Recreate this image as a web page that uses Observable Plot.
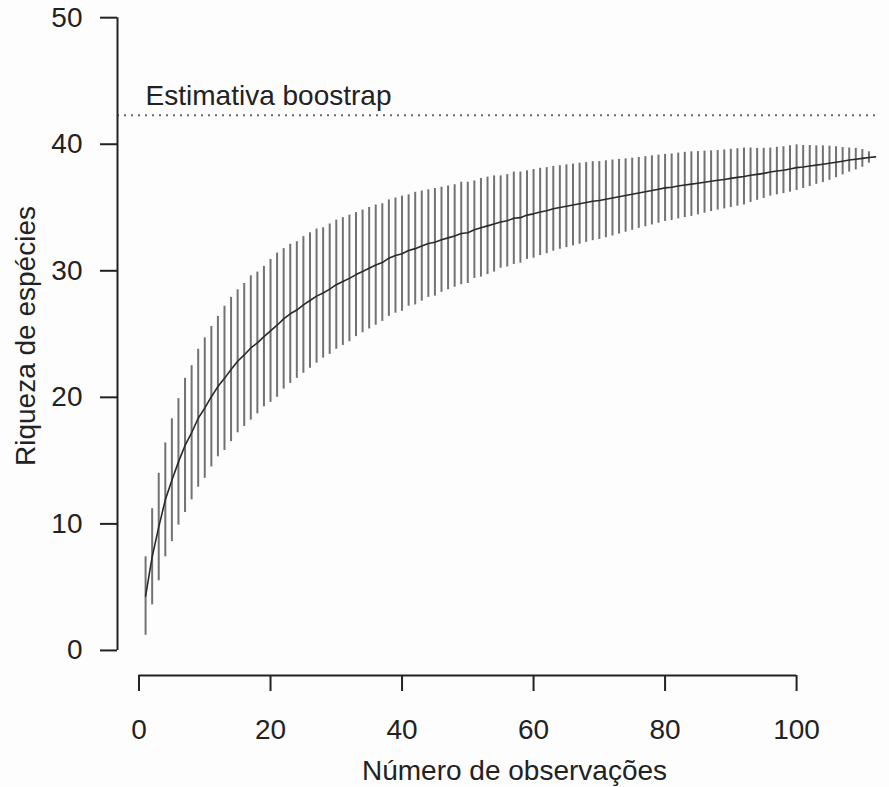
<!DOCTYPE html>
<html>
<head>
<meta charset="utf-8">
<script src="https://cdn.jsdelivr.net/npm/d3@7"></script>
<script src="https://cdn.jsdelivr.net/npm/@observablehq/plot@0.6"></script>
<style>
  html, body { margin: 0; padding: 0; background: #fdfdfd; }
  #chart svg { display: block; }
</style>
</head>
<body>
<div id="chart"></div>
<script>
// ---- Data ----
const observations = d3.range(1, 113); // 1 .. 112

const meanRichness = [
  4.3, 7.4, 9.75, 11.9, 13.45, 14.9, 16.2, 17.2, 18.35, 19.15,
  20.05, 20.85, 21.5, 22.2, 22.85, 23.35, 23.9, 24.3, 24.8, 25.25,
  25.7, 26.2, 26.6, 26.9, 27.3, 27.65, 28.0, 28.25, 28.55, 28.9,
  29.15, 29.4, 29.7, 29.95, 30.2, 30.45, 30.65, 31.0, 31.2, 31.35,
  31.6, 31.75, 31.95, 32.15, 32.25, 32.45, 32.6, 32.75, 32.95, 33.0,
  33.25, 33.4, 33.55, 33.7, 33.85, 33.95, 34.15, 34.2, 34.4, 34.5,
  34.65, 34.75, 34.9, 35.0, 35.1, 35.2, 35.3, 35.4, 35.5, 35.55,
  35.65, 35.75, 35.85, 35.95, 36.05, 36.15, 36.25, 36.35, 36.45, 36.55,
  36.6, 36.7, 36.78, 36.85, 36.92, 37.0, 37.08, 37.15, 37.22, 37.3,
  37.38, 37.45, 37.55, 37.62, 37.7, 37.8, 37.88, 37.95, 38.05, 38.15,
  38.2, 38.28, 38.35, 38.42, 38.5, 38.58, 38.66, 38.75, 38.82, 38.88,
  38.95, 39.0
];

// half-length of each interval bar (2 × standard deviation)
const ciHalfWidth = [
  3.1, 3.8, 4.25, 4.5, 4.85, 5.0, 5.3, 5.3, 5.45, 5.55,
  5.55, 5.55, 5.7, 5.7, 5.65, 5.65, 5.7, 5.6, 5.55, 5.65,
  5.7, 5.55, 5.5, 5.4, 5.4, 5.35, 5.3, 5.15, 5.15, 5.1,
  5.05, 5.0, 4.9, 4.85, 4.8, 4.75, 4.65, 4.6, 4.55, 4.55,
  4.4, 4.45, 4.35, 4.25, 4.25, 4.15, 4.1, 4.05, 4.05, 4.0,
  3.85, 3.9, 3.85, 3.8, 3.65, 3.65, 3.65, 3.6, 3.5, 3.5,
  3.45, 3.4, 3.35, 3.3, 3.27, 3.23, 3.2, 3.15, 3.12, 3.08,
  3.04, 3.0, 2.95, 2.9, 2.85, 2.8, 2.77, 2.73, 2.69, 2.65,
  2.63, 2.6, 2.58, 2.55, 2.5, 2.45, 2.4, 2.35, 2.33, 2.3,
  2.27, 2.25, 2.15, 2.05, 1.98, 1.9, 1.88, 1.85, 1.83, 1.8,
  1.7, 1.62, 1.52, 1.45, 1.35, 1.22, 1.08, 0.95, 0.85, 0.7,
  0.45, 0
];

const bootstrapEstimate = 42.3;
const bootstrapLabel = "Estimativa boostrap";
const bootstrapLabelAt = 1;

const xTicks = [0, 20, 40, 60, 80, 100];
const yTicks = [0, 10, 20, 30, 40, 50];
const xLabel = "Número de observações";
const yLabel = "Riqueza de espécies";

const xDomain = [-3.27, 112.0];
const yDomain = [-1.98, 51.2];

// ---- Table built from the arrays ----
const data = observations.map((n, i) => ({
  n,
  mean: meanRichness[i],
  lo: meanRichness[i] - ciHalfWidth[i],
  hi: meanRichness[i] + ciHalfWidth[i]
}));

const ink = "#222";

const chart = Plot.plot({
  width: 889,
  height: 787,
  marginLeft: 117,
  marginRight: 14,
  marginTop: 2,
  marginBottom: 112,
  x: { domain: xDomain },
  y: { domain: yDomain },
  style: {
    fontFamily: "'Liberation Sans', Arial, Helvetica, sans-serif",
    fontSize: "28px",
    background: "#fdfdfd",
    color: ink
  },
  marks: [
    // bootstrap estimate (dotted horizontal line) and its label
    Plot.ruleY([bootstrapEstimate], { stroke: "#6a6a6a", strokeWidth: 2, strokeDasharray: "2,5" }),
    Plot.text([bootstrapLabel], {
      x: () => bootstrapLabelAt, y: () => bootstrapEstimate, text: d => d,
      textAnchor: "start", dy: -19, fontSize: 28, fill: ink
    }),
    // interval bars
    Plot.ruleX(data, { x: "n", y1: "lo", y2: "hi", stroke: "#727272", strokeWidth: 2 }),
    // mean accumulation curve
    Plot.line(data, { x: "n", y: "mean", stroke: "#2a2a2a", strokeWidth: 1.6 }),
    // axes (R style, detached)
    Plot.ruleY([yDomain[0]], { x1: xTicks[0], x2: xTicks[xTicks.length - 1], stroke: ink, strokeWidth: 2 }),
    Plot.ruleX([xDomain[0]], { y1: yTicks[0], y2: yTicks[yTicks.length - 1], stroke: ink, strokeWidth: 2 }),
    Plot.axisX({ ticks: xTicks, tickSize: 16, tickPadding: 28, label: null, fontSize: 28, stroke: ink, strokeWidth: 2, fill: ink }),
    Plot.axisY({ ticks: yTicks, tickSize: 17, tickPadding: 18, label: null, fontSize: 28, stroke: ink, strokeWidth: 2, fill: ink }),
    Plot.text([xLabel], { frameAnchor: "bottom", text: d => d, textAnchor: "middle", lineAnchor: "middle", dy: 96, dx: 18, fontSize: 28, fill: ink }),
    Plot.text([yLabel], { frameAnchor: "left", text: d => d, textAnchor: "middle", lineAnchor: "middle", rotate: -90, dx: -91, dy: -3, fontSize: 28, fill: ink })
  ]
});

document.getElementById("chart").appendChild(chart);
</script>
</body>
</html>
